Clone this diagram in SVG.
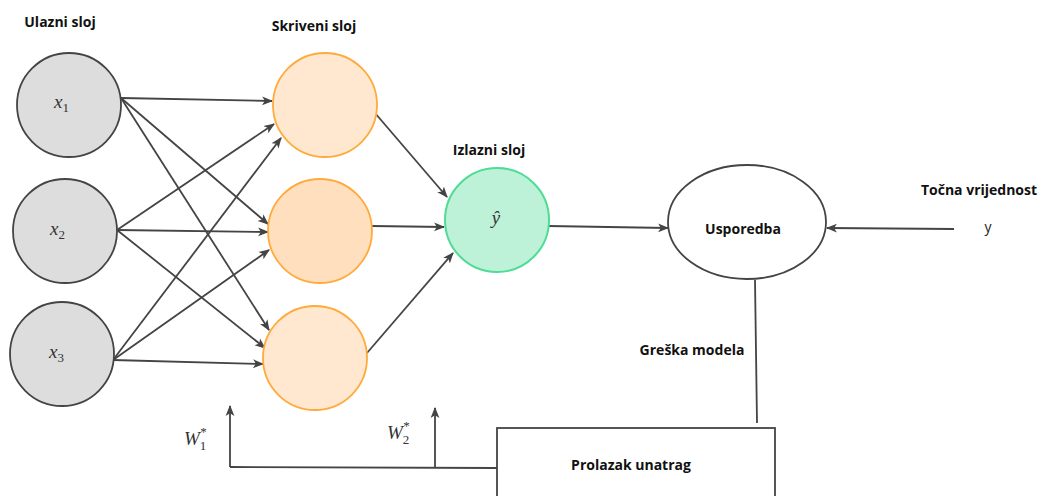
<svg xmlns="http://www.w3.org/2000/svg" width="1043" height="496" viewBox="0 0 1043 496">
  <defs>
    <marker id="arrow" viewBox="0 0 10 10" refX="9" refY="5" markerWidth="11" markerHeight="11" markerUnits="userSpaceOnUse" orient="auto">
      <path d="M0,1 L10,5 L0,9 L2.5,5 Z" fill="#444"/>
    </marker>
    <style>
      .lbl { font-family: "Open Sans", "Liberation Sans", Arial, sans-serif; font-weight: bold; font-size: 14px; fill: #111; }
      .math { font-family: "Liberation Serif", "Times New Roman", serif; font-style: italic; font-size: 19px; fill: #333; }
      .sub { font-family: "Liberation Serif", "Times New Roman", serif; font-style: normal; font-size: 13px; fill: #333; }
      .edge { stroke: #444; stroke-width: 1.8; fill: none; }
      .arr { marker-end: url(#arrow); }
      .in { fill: #dddddd; stroke: #444; stroke-width: 1.8; }
      .hid { fill: #ffe8cf; stroke: #ffaa3c; stroke-width: 1.8; }
      .hid2 { fill: #ffdfbd; stroke: #ffaa3c; stroke-width: 1.8; }
      .out { fill: #bdf2d8; stroke: #4fdc94; stroke-width: 2; }
      .plain { fill: #fff; stroke: #444; stroke-width: 1.8; }
    </style>
  </defs>
  <rect width="1043" height="496" fill="#fff"/>

  <!-- layer titles -->
  <text class="lbl" x="60" y="27" text-anchor="middle">Ulazni sloj</text>
  <text class="lbl" x="314" y="31" text-anchor="middle">Skriveni sloj</text>
  <text class="lbl" x="489" y="155" text-anchor="middle">Izlazni sloj</text>
  <text class="lbl" x="979" y="195" text-anchor="middle">Točna vrijednost</text>
  <text class="lbl" x="692" y="355" text-anchor="middle">Greška modela</text>

  <!-- connectors -->
  <g id="connectors">
    <!-- input to hidden -->
    <line class="edge arr" x1="121" y1="98" x2="272" y2="101"/>
    <line class="edge arr" x1="121" y1="98" x2="268" y2="224"/>
    <line class="edge arr" x1="121" y1="98" x2="269" y2="330"/>
    <line class="edge arr" x1="117" y1="230" x2="274" y2="124"/>
    <line class="edge arr" x1="117" y1="230" x2="268" y2="232"/>
    <line class="edge arr" x1="117" y1="230" x2="265" y2="348"/>
    <line class="edge arr" x1="113" y1="360" x2="281" y2="138"/>
    <line class="edge arr" x1="113" y1="360" x2="269" y2="250"/>
    <line class="edge arr" x1="113" y1="360" x2="263" y2="364"/>
    <!-- hidden to output -->
    <line class="edge arr" x1="375" y1="113" x2="447" y2="197"/>
    <line class="edge arr" x1="372" y1="226" x2="444" y2="227"/>
    <line class="edge arr" x1="367" y1="353" x2="453" y2="253"/>
    <!-- output to comparison -->
    <line class="edge arr" x1="548" y1="226" x2="668" y2="228"/>
    <!-- true value to comparison -->
    <line class="edge arr" x1="954" y1="229" x2="827" y2="228"/>
    <!-- error line down to backward pass -->
    <line class="edge" x1="755" y1="280" x2="757" y2="423"/>
    <!-- weight updates -->
    <polyline class="edge" points="497,468 230,467"/>
    <line class="edge arr" x1="230" y1="467" x2="230" y2="406"/>
    <line class="edge arr" x1="435" y1="468" x2="435" y2="408"/>
  </g>

  <!-- input layer -->
  <g id="x1">
    <circle class="in" cx="69" cy="105" r="52"/>
    <text class="math" x="54" y="108">x<tspan class="sub" dy="4">1</tspan></text>
  </g>
  <g id="x2">
    <circle class="in" cx="65" cy="231" r="52"/>
    <text class="math" x="50" y="235">x<tspan class="sub" dy="4">2</tspan></text>
  </g>
  <g id="x3">
    <circle class="in" cx="62" cy="354" r="52"/>
    <text class="math" x="49" y="358">x<tspan class="sub" dy="4">3</tspan></text>
  </g>

  <!-- hidden layer -->
  <g id="h1"><circle class="hid" cx="325" cy="105" r="52"/></g>
  <g id="h2"><circle class="hid2" cx="320" cy="231" r="52"/></g>
  <g id="h3"><circle class="hid" cx="315" cy="358" r="52"/></g>

  <!-- output layer -->
  <g id="output">
    <circle class="out" cx="497" cy="220" r="52"/>
    <text class="math" x="496" y="224" text-anchor="middle">ŷ</text>
  </g>

  <!-- comparison -->
  <g id="usporedba">
    <ellipse class="plain" cx="747" cy="222" rx="79" ry="57"/>
    <text class="lbl" x="743" y="234" text-anchor="middle">Usporedba</text>
  </g>

  <!-- true value -->
  <g id="y-value">
    <text x="988" y="232" text-anchor="middle" font-family="Open Sans, Liberation Sans, Arial, sans-serif" font-size="14" fill="#222">y</text>
  </g>

  <!-- backward pass -->
  <g id="backprop">
    <rect class="plain" x="497" y="428" width="278" height="90"/>
    <text class="lbl" x="631" y="470" text-anchor="middle">Prolazak unatrag</text>
  </g>

  <!-- weight labels -->
  <g id="w1">
    <text class="math" x="184" y="445">W<tspan class="sub" dy="5">1</tspan><tspan class="sub" dx="-6" dy="-14" font-size="11">*</tspan></text>
  </g>
  <g id="w2">
    <text class="math" x="387" y="439">W<tspan class="sub" dy="5">2</tspan><tspan class="sub" dx="-6" dy="-14" font-size="11">*</tspan></text>
  </g>
</svg>
